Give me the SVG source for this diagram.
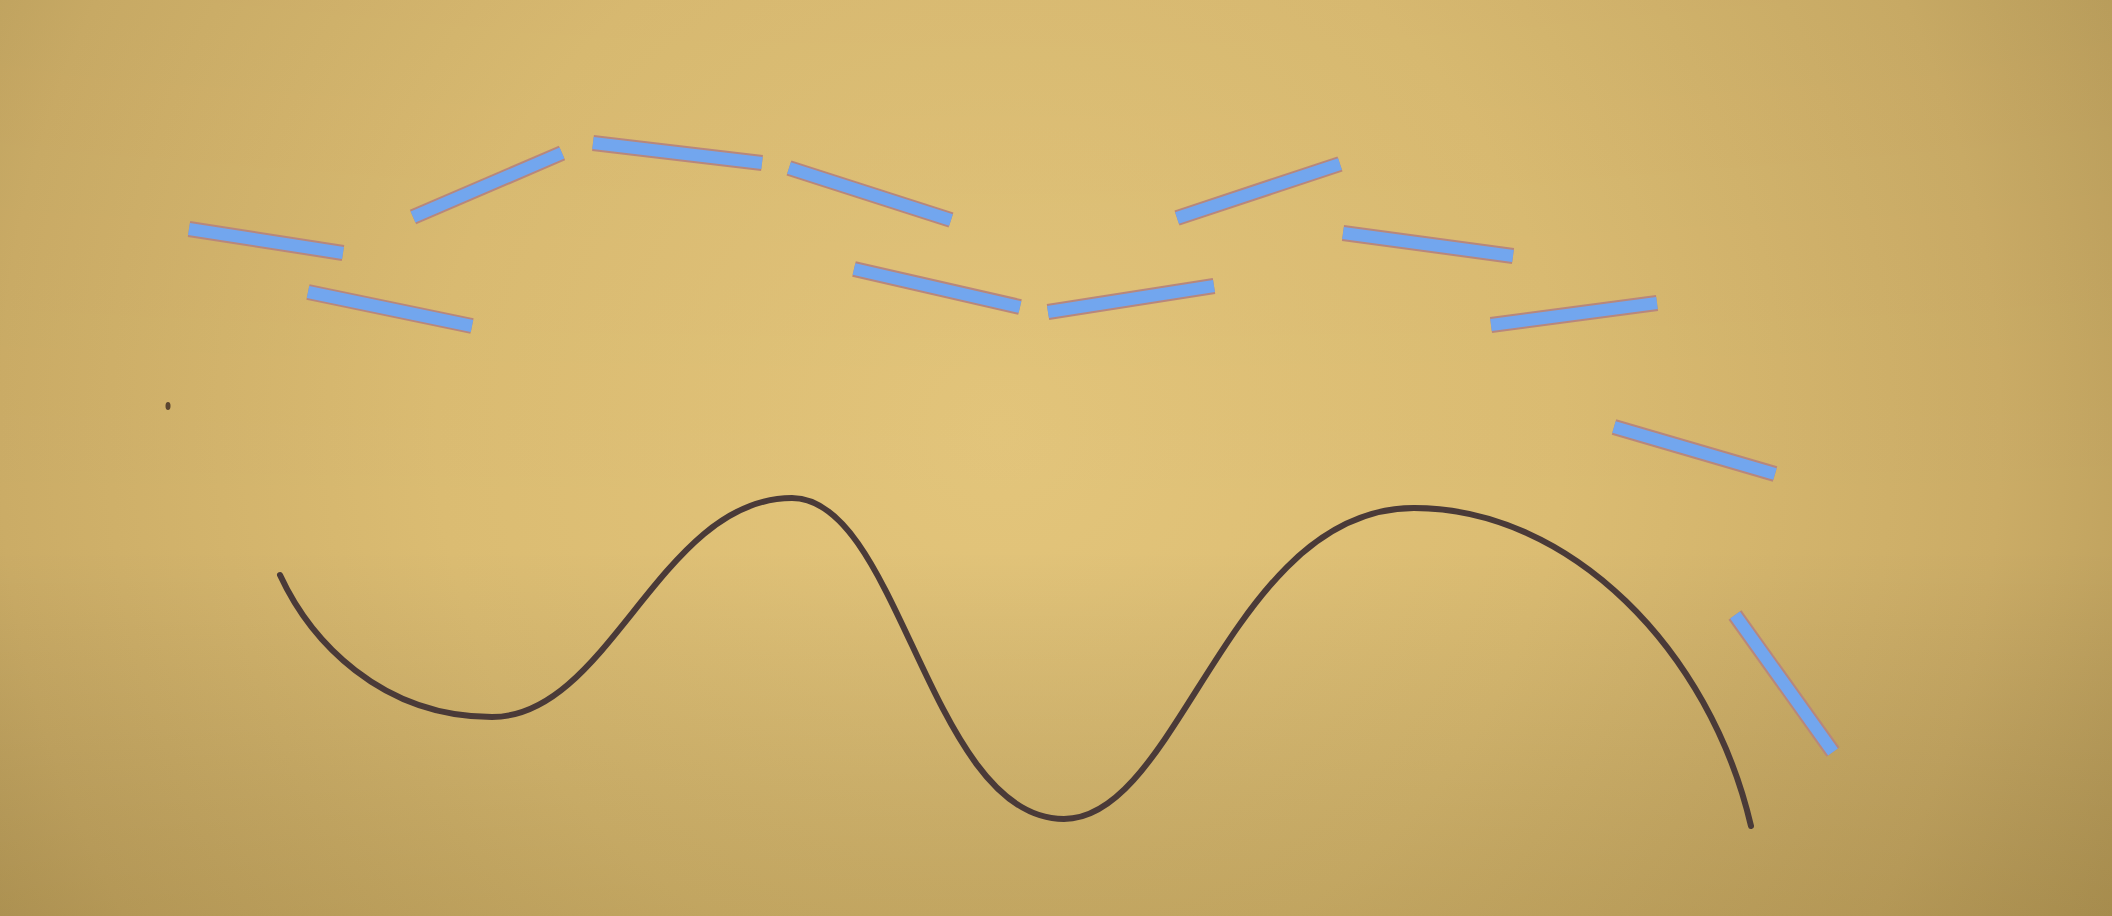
<svg xmlns="http://www.w3.org/2000/svg" width="2112" height="916" viewBox="0 0 2112 916">
<defs>
<radialGradient id="bg" cx="1000" cy="430" r="1250" gradientUnits="userSpaceOnUse">
<stop offset="0" stop-color="#e3c57b"/>
<stop offset="0.45" stop-color="#dbbc72"/>
<stop offset="0.8" stop-color="#cbac66"/>
<stop offset="1" stop-color="#b89c5a"/>
</radialGradient>
<linearGradient id="shade" x1="0" y1="0" x2="0" y2="916" gradientUnits="userSpaceOnUse">
<stop offset="0" stop-color="#000" stop-opacity="0.02"/>
<stop offset="0.6" stop-color="#000" stop-opacity="0"/>
<stop offset="1" stop-color="#3a2a00" stop-opacity="0.16"/>
</linearGradient>
<style>
.edge{stroke:#b8877c;stroke-width:16;stroke-linecap:butt;fill:none}
.stick{stroke:#72a6ee;stroke-width:12;stroke-linecap:butt;fill:none}
.curve{stroke:#4a3a38;stroke-width:6;fill:none;stroke-linecap:round;stroke-linejoin:round}
</style>
</defs>
<rect width="2112" height="916" fill="url(#bg)"/>
<rect width="2112" height="916" fill="url(#shade)"/>
<g id="sticks">
<g id="s1"><line class="edge" x1="189" y1="229" x2="343" y2="253"/><line class="stick" x1="189" y1="229" x2="343" y2="253"/></g>
<g id="s2"><line class="edge" x1="308" y1="292" x2="472" y2="326"/><line class="stick" x1="308" y1="292" x2="472" y2="326"/></g>
<g id="s3"><line class="edge" x1="413" y1="217" x2="562" y2="153"/><line class="stick" x1="413" y1="217" x2="562" y2="153"/></g>
<g id="s4"><line class="edge" x1="593" y1="143" x2="762" y2="163"/><line class="stick" x1="593" y1="143" x2="762" y2="163"/></g>
<g id="s5"><line class="edge" x1="789" y1="168" x2="951" y2="220"/><line class="stick" x1="789" y1="168" x2="951" y2="220"/></g>
<g id="s6"><line class="edge" x1="854" y1="269" x2="1020" y2="307"/><line class="stick" x1="854" y1="269" x2="1020" y2="307"/></g>
<g id="s7"><line class="edge" x1="1048" y1="312" x2="1214" y2="286"/><line class="stick" x1="1048" y1="312" x2="1214" y2="286"/></g>
<g id="s8"><line class="edge" x1="1177" y1="218" x2="1340" y2="164"/><line class="stick" x1="1177" y1="218" x2="1340" y2="164"/></g>
<g id="s9"><line class="edge" x1="1343" y1="233" x2="1513" y2="256"/><line class="stick" x1="1343" y1="233" x2="1513" y2="256"/></g>
<g id="s10"><line class="edge" x1="1491" y1="325" x2="1657" y2="303"/><line class="stick" x1="1491" y1="325" x2="1657" y2="303"/></g>
<g id="s11"><line class="edge" x1="1614" y1="427" x2="1775" y2="474"/><line class="stick" x1="1614" y1="427" x2="1775" y2="474"/></g>
<g id="s12"><line class="edge" x1="1735" y1="615" x2="1833" y2="752"/><line class="stick" x1="1735" y1="615" x2="1833" y2="752"/></g>
</g>
<ellipse id="dot" cx="168" cy="406" rx="2.5" ry="4" fill="#5a4530"/>
<path id="wave" class="curve" d="M280,575 C310,640 380,717 492,717 C610,717 660,498 792,498 C900,498 930,819 1064,819 C1180,819 1230,508 1414,508 C1570,508 1710,650 1751,826"/>
</svg>
